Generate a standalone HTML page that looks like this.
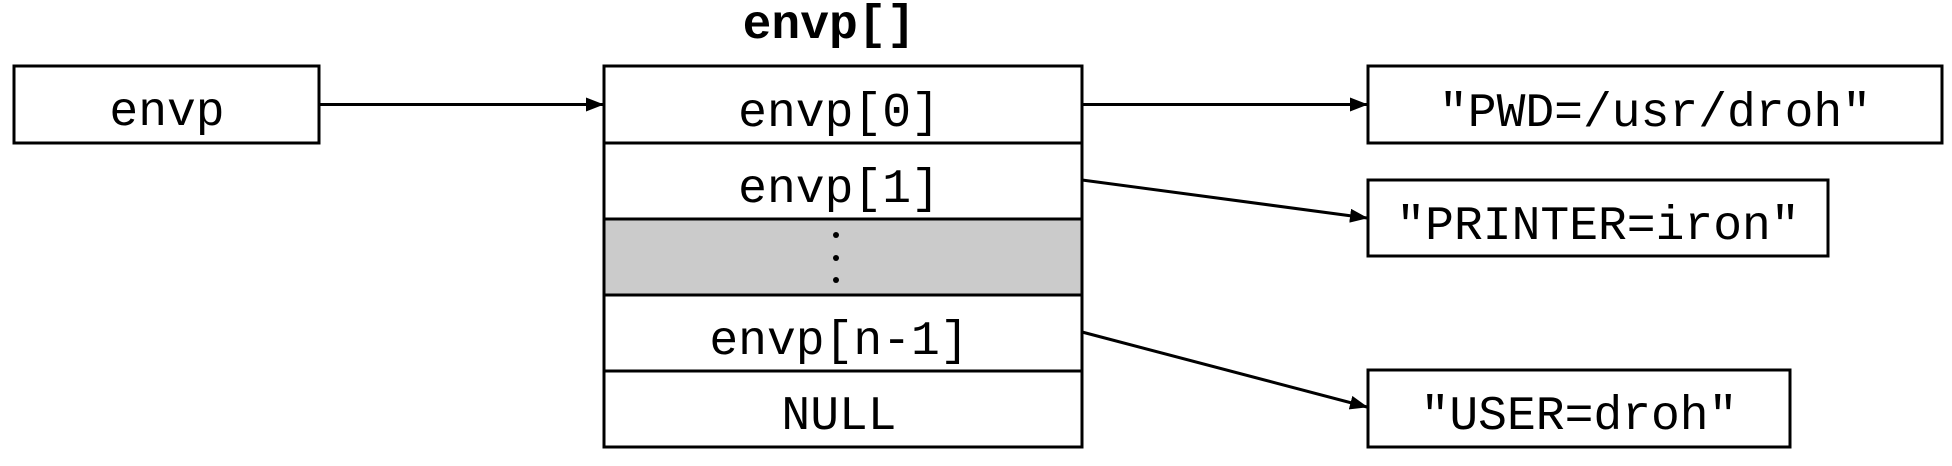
<!DOCTYPE html>
<html><head><meta charset="utf-8"><style>
html,body{margin:0;padding:0;background:#fff;}
svg{display:block;}
text{font-family:"Liberation Mono",monospace;font-size:48px;fill:#000;}
</style></head><body>
<svg width="1952" height="466" viewBox="0 0 1952 466" xmlns="http://www.w3.org/2000/svg">
<defs><marker id="a" markerWidth="18" markerHeight="14" refX="17" refY="7" orient="auto" markerUnits="userSpaceOnUse"><path d="M0,0 L18,7 L0,14 z" fill="#000"/></marker></defs>
<g fill="none" stroke="#000" stroke-width="3">
<rect x="14" y="66" width="305" height="77" fill="#fff"/>
<rect x="604" y="219" width="478" height="76" fill="#cbcbcb" stroke="none"/>
<rect x="604" y="66" width="478" height="381"/>
<line x1="604" y1="143" x2="1082" y2="143"/>
<line x1="604" y1="219" x2="1082" y2="219"/>
<line x1="604" y1="295" x2="1082" y2="295"/>
<line x1="604" y1="371" x2="1082" y2="371"/>
<rect x="1368" y="66" width="574" height="77"/>
<rect x="1368" y="180" width="460" height="76"/>
<rect x="1368" y="370" width="422" height="77"/>
<line x1="319" y1="104.5" x2="603" y2="104.5" marker-end="url(#a)"/>
<line x1="1082" y1="104.5" x2="1367" y2="104.5" marker-end="url(#a)"/>
<line x1="1082" y1="180" x2="1367" y2="218" marker-end="url(#a)"/>
<line x1="1082" y1="332" x2="1367" y2="407" marker-end="url(#a)"/>
</g>
<circle cx="836" cy="235" r="3"/><circle cx="836" cy="258" r="3"/><circle cx="836" cy="280" r="3"/>
<text x="829" y="38" text-anchor="middle" font-weight="bold">envp[]</text>
<text x="167" y="125" text-anchor="middle">envp</text>
<text x="839" y="126" text-anchor="middle">envp[0]</text>
<text x="839" y="202" text-anchor="middle">envp[1]</text>
<text x="839" y="354" text-anchor="middle">envp[n-1]</text>
<text x="839" y="429" text-anchor="middle">NULL</text>
<text x="1655" y="126" text-anchor="middle">"PWD=/usr/droh"</text>
<text x="1598" y="239" text-anchor="middle">"PRINTER=iron"</text>
<text x="1579" y="429" text-anchor="middle">"USER=droh"</text>
</svg>
</body></html>
